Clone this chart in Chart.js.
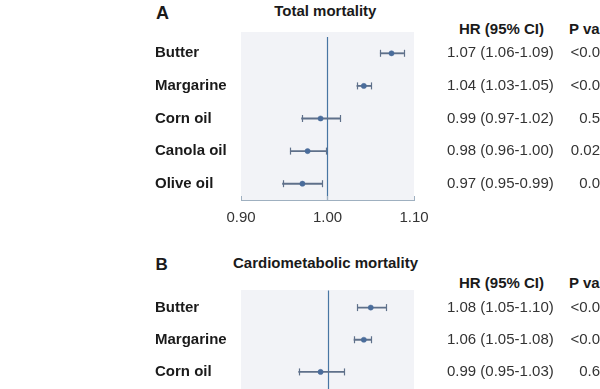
<!DOCTYPE html>
<html>
<head>
<meta charset="utf-8">
<script src="https://cdn.jsdelivr.net/npm/chart.js@4/dist/chart.umd.min.js"></script>
<style>
  html, body { margin:0; padding:0; background:#fff; overflow:hidden; width:600px; height:389px; }
  body { position:relative; font-family:"Liberation Sans", Arial, sans-serif; }
  .t { position:absolute; white-space:nowrap; color:#1a1a1a; }
  canvas { position:absolute; left:0; }
</style>
</head>
<body>
<div class="t" style="left:156px;top:3.6px;font-size:18px;line-height:18px;font-weight:bold;">A</div>
<div class="t" style="left:325.3px;top:3px;font-size:15px;line-height:15px;font-weight:bold;transform:translateX(-50%);">Total mortality</div>
<div class="t" style="left:459px;top:21.3px;font-size:15px;line-height:15px;font-weight:bold;">HR (95% CI)</div>
<div class="t" style="left:569px;top:21.3px;font-size:15px;line-height:15px;font-weight:bold;">P value</div>

<div class="t" style="left:155.5px;top:256px;font-size:17px;line-height:17px;font-weight:bold;">B</div>
<div class="t" style="left:325.5px;top:254.7px;font-size:15px;line-height:15px;font-weight:bold;transform:translateX(-50%);">Cardiometabolic mortality</div>
<div class="t" style="left:459px;top:274.7px;font-size:15px;line-height:15px;font-weight:bold;">HR (95% CI)</div>
<div class="t" style="left:569px;top:274.7px;font-size:15px;line-height:15px;font-weight:bold;">P value</div>

<canvas id="cA" width="600" height="225" style="top:0px;width:600px;height:225px;"></canvas>
<canvas id="cB" width="600" height="173" style="top:240px;width:600px;height:173px;"></canvas>

<script>
// ---- Panel A: Total mortality ----
const categoriesA = ['Butter', 'Margarine', 'Corn oil', 'Canola oil', 'Olive oil'];
const hrA = [1.074, 1.042, 0.992, 0.977, 0.971];
const loA = [1.061, 1.034, 0.970, 0.957, 0.948];
const hiA = [1.088, 1.050, 1.015, 0.998, 0.994];
const hrTextA = ['1.07 (1.06-1.09)', '1.04 (1.03-1.05)', '0.99 (0.97-1.02)', '0.98 (0.96-1.00)', '0.97 (0.95-0.99)'];
const pTextA = ['<0.0', '<0.0', '0.5', '0.02', '0.0'];
const xTicksA = [0.90, 1.00, 1.10];

// ---- Panel B: Cardiometabolic mortality ----
const categoriesB = ['Butter', 'Margarine', 'Corn oil'];
const hrB = [1.075, 1.063, 0.988];
const loB = [1.052, 1.046, 0.950];
const hiB = [1.101, 1.076, 1.029];
const hrTextB = ['1.08 (1.05-1.10)', '1.06 (1.05-1.08)', '0.99 (0.95-1.03)'];
const pTextB = ['<0.0', '<0.0', '0.6'];
const xTicksB = [0.85, 1.00, 1.15];

const FONT = '"Liberation Sans", Arial, sans-serif';

const forestPlugin = {
  id: 'forest',
  beforeDraw(chart, args, o) {
    const {ctx, chartArea: a} = chart;
    ctx.save();
    ctx.fillStyle = o.shade;
    const top = a.top - o.shadeAbove;
    const bottom = o.toBottom ? chart.height : a.bottom;
    ctx.fillRect(a.left, top, a.right - a.left, bottom - top);
    ctx.restore();
  },
  beforeDatasetsDraw(chart, args, o) {
    const {ctx, chartArea: a, scales: {x}} = chart;
    ctx.save();
    const bottom = o.toBottom ? chart.height : a.bottom;
    const rx = Math.round(x.getPixelForValue(o.ref)) + 0.5;
    ctx.strokeStyle = o.refColor;
    ctx.lineWidth = 1.2;
    ctx.beginPath();
    ctx.moveTo(rx, a.top - o.refAbove);
    ctx.lineTo(rx, bottom);
    ctx.stroke();
    if (o.showTicks) {
      ctx.strokeStyle = o.axisColor;
      ctx.lineWidth = 1;
      x.ticks.forEach(t => {
        const px = Math.round(x.getPixelForValue(t.value)) + 0.5;
        ctx.beginPath();
        ctx.moveTo(px, a.bottom - 4);
        ctx.lineTo(px, a.bottom);
        ctx.stroke();
      });
    }
    ctx.restore();
  },
  afterDatasetsDraw(chart, args, o) {
    const {ctx, scales: {x, y}} = chart;
    ctx.save();
    ctx.strokeStyle = o.barColor;
    ctx.lineWidth = 1.2;
    o.lo.forEach((lo, i) => {
      const py = y.getPixelForValue(i);
      [lo, o.hi[i]].forEach(v => {
        const px = Math.round(x.getPixelForValue(v)) + 0.5;
        ctx.beginPath();
        ctx.moveTo(px, py - 3.5);
        ctx.lineTo(px, py + 3.5);
        ctx.stroke();
      });
    });
    ctx.restore();
  }
};

function makeForest(id, cats, hr, lo, hi, hrText, pText, xTicks, cfg) {
  const axisColor = '#9fb0c0';
  return new Chart(document.getElementById(id), {
    type: 'bar',
    data: {
      labels: cats,
      datasets: [
        {
          type: 'line', data: hr, showLine: false,
          pointRadius: 2.6, pointBackgroundColor: '#4a6c9b', pointBorderColor: '#4a6c9b',
          pointBorderWidth: 0.5, order: 0
        },
        {
          type: 'bar', data: lo.map((v, i) => [v, hi[i]]),
          backgroundColor: '#5f708a', barThickness: 1.2, borderWidth: 0, order: 1
        }
      ]
    },
    options: {
      indexAxis: 'y',
      responsive: false, animation: false, devicePixelRatio: 1,
      layout: { padding: { left: 155, right: 0, top: cfg.top, bottom: 0 } },
      plugins: {
        legend: { display: false }, tooltip: { enabled: false },
        forest: {
          shade: '#f2f3f7', shadeAbove: cfg.shadeAbove, refAbove: cfg.refAbove,
          toBottom: cfg.toBottom, ref: 1.0, refColor: '#4775a3', axisColor,
          showTicks: cfg.showAxis, barColor: '#5f708a', lo, hi
        }
      },
      scales: {
        x: {
          type: 'linear', position: 'bottom', min: xTicks[0], max: xTicks[xTicks.length - 1],
          grid: { display: false, drawTicks: false },
          border: { display: cfg.showAxis, color: axisColor, width: 1 },
          afterBuildTicks: s => { s.ticks = xTicks.map(v => ({ value: v })); },
          ticks: {
            display: cfg.showAxis, padding: 9, color: '#333',
            font: { family: FONT, size: 15 },
            callback: v => Number(v).toFixed(2)
          },
          afterFit: s => { s.height = 25; }
        },
        y: {
          type: 'category', position: 'left', offset: true,
          grid: { display: false, drawTicks: false }, border: { display: false },
          ticks: { crossAlign: 'far', padding: 0, color: '#1a1a1a', autoSkip: false,
                   font: { family: FONT, size: 15, weight: 'bold' } },
          afterFit: s => { s.width = 86; }
        },
        hr: {
          type: 'category', labels: hrText, position: 'right', offset: true,
          grid: { display: true, drawOnChartArea: false, drawTicks: true, tickLength: 33, color: 'rgba(0,0,0,0)' },
          border: { display: false },
          ticks: { crossAlign: 'near', padding: 0, color: '#333', autoSkip: false,
                   font: { family: FONT, size: 15 } },
          afterFit: s => { s.width = 157; }
        },
        p: {
          type: 'category', labels: pText, position: 'right', offset: true,
          grid: { display: false, drawTicks: false }, border: { display: false },
          ticks: { crossAlign: 'far', padding: 0, color: '#333', autoSkip: false,
                   font: { family: FONT, size: 15 } },
          afterFit: s => { s.width = 29; }
        }
      }
    },
    plugins: [forestPlugin]
  });
}

makeForest('cA', categoriesA, hrA, loA, hiA, hrTextA, pTextA, xTicksA,
  { top: 37, shadeAbove: 5, refAbove: 0, toBottom: false, showAxis: true });
makeForest('cB', categoriesB, hrB, loB, hiB, hrTextB, pTextB, xTicksB,
  { top: 51.5, shadeAbove: 1.5, refAbove: 1, toBottom: true, showAxis: false });
</script>
</body>
</html>
